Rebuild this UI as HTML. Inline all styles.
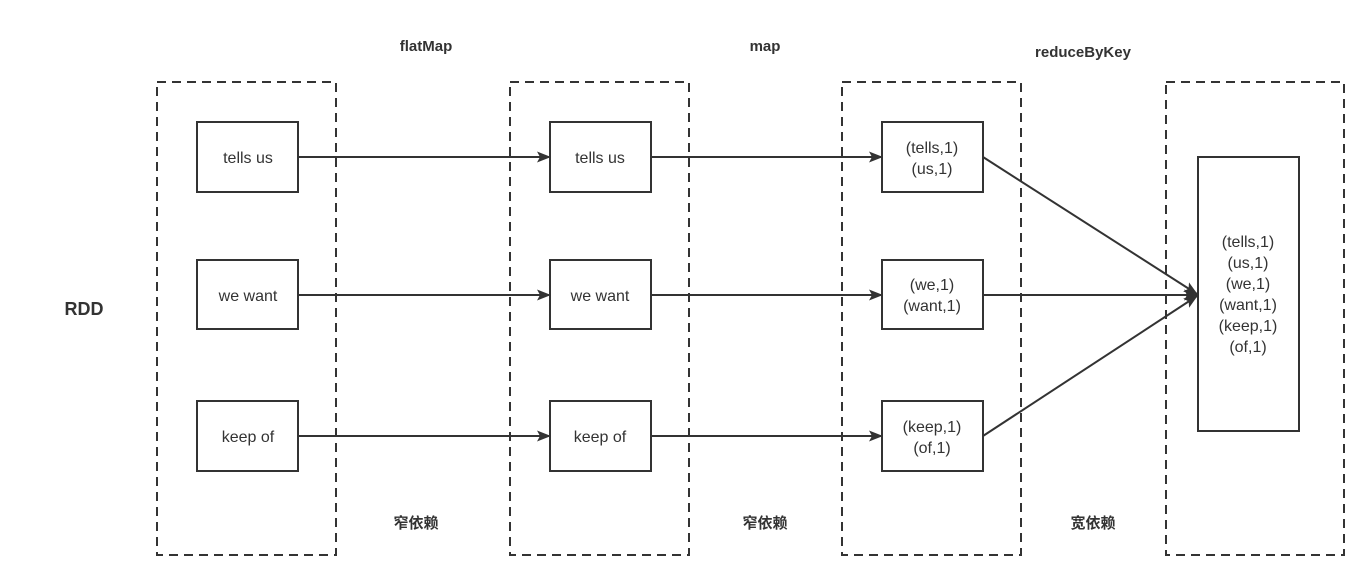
<!DOCTYPE html>
<html><head><meta charset="utf-8"><style>
html,body{margin:0;padding:0;background:#fff;}
svg text{font-family:"Liberation Sans","Noto Sans CJK SC",sans-serif;fill:#333;}
</style></head><body>
<svg width="1369" height="580" viewBox="0 0 1369 580" xmlns="http://www.w3.org/2000/svg">
<defs><marker id="a" markerWidth="14" markerHeight="12" refX="13" refY="6" orient="auto" markerUnits="userSpaceOnUse"><path d="M0,0.5 L14,6 L0,11.5 L3,6 Z" fill="#333"/></marker></defs>
<g fill="none" stroke="#333" stroke-width="2" stroke-dasharray="9,6">
<rect x="157" y="82" width="179" height="473"/>
<rect x="510" y="82" width="179" height="473"/>
<rect x="842" y="82" width="179" height="473"/>
<rect x="1166" y="82" width="178" height="473"/>
</g>
<g fill="#fff" stroke="#333" stroke-width="2">
<rect x="197" y="122" width="101" height="70"/><rect x="197" y="260" width="101" height="69"/><rect x="197" y="401" width="101" height="70"/>
<rect x="550" y="122" width="101" height="70"/><rect x="550" y="260" width="101" height="69"/><rect x="550" y="401" width="101" height="70"/>
<rect x="882" y="122" width="101" height="70"/><rect x="882" y="260" width="101" height="69"/><rect x="882" y="401" width="101" height="70"/>
<rect x="1198" y="157" width="101" height="274"/>
</g>
<g stroke="#333" stroke-width="2" fill="none" marker-end="url(#a)">
<line x1="298" y1="157" x2="550" y2="157"/><line x1="298" y1="295" x2="550" y2="295"/><line x1="298" y1="436" x2="550" y2="436"/>
<line x1="651" y1="157" x2="882" y2="157"/><line x1="651" y1="295" x2="882" y2="295"/><line x1="651" y1="436" x2="882" y2="436"/>
<line x1="983" y1="157" x2="1197" y2="294"/><line x1="983" y1="295" x2="1197" y2="295"/><line x1="983" y1="436" x2="1197" y2="296"/>
</g>
<g font-size="16" text-anchor="middle">
<text x="248" y="163">tells us</text><text x="248" y="301">we want</text><text x="248" y="442">keep of</text>
<text x="600" y="163">tells us</text><text x="600" y="301">we want</text><text x="600" y="442">keep of</text>
<text x="932" y="153">(tells,1)</text><text x="932" y="174">(us,1)</text>
<text x="932" y="290">(we,1)</text><text x="932" y="311">(want,1)</text>
<text x="932" y="432">(keep,1)</text><text x="932" y="453">(of,1)</text>
<text x="1248" y="247">(tells,1)</text><text x="1248" y="268">(us,1)</text><text x="1248" y="289">(we,1)</text><text x="1248" y="310">(want,1)</text><text x="1248" y="331">(keep,1)</text><text x="1248" y="352">(of,1)</text>
</g>
<g font-size="15" font-weight="bold" text-anchor="middle">
<text x="426" y="51">flatMap</text><text x="765" y="51">map</text><text x="1083" y="57">reduceByKey</text>
<text x="84" y="315" font-size="18">RDD</text>
<text x="416" y="528">窄依赖</text><text x="765" y="528">窄依赖</text><text x="1093" y="528">宽依赖</text>
</g>
</svg>
</body></html>
